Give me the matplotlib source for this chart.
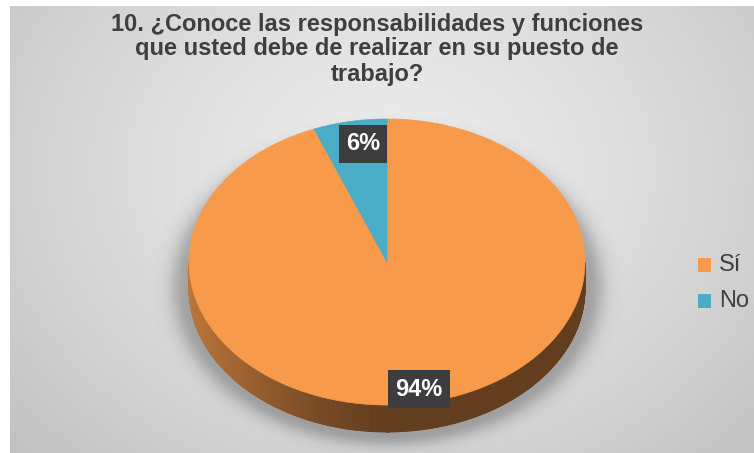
import matplotlib.pyplot as plt
import numpy as np
from matplotlib.patches import Polygon, Rectangle
from matplotlib.colors import to_rgb

labels = ['Sí', 'No']
values = [94, 6]
colors = ['#f89a4c', '#4bacc6']
title_lines = ['10. ¿Conoce las responsabilidades y funciones',
               'que usted debe de realizar en su puesto de',
               'trabajo?']

W, H = 754, 453
fig = plt.figure(figsize=(W / 100, H / 100), dpi=100, facecolor='white')
ax = fig.add_axes([0, 0, 1, 1])
ax.set_xlim(0, W)
ax.set_ylim(H, 0)
ax.axis('off')

# background: soft radial gray
x0, y0 = 10, 6
gx, gy = np.meshgrid(np.arange(x0, W), np.arange(y0, H))
r = np.sqrt(((gx - 390) / 520) ** 2 + ((gy - 170) / 420) ** 2)
lev = 0.925 - 0.17 * np.clip(r, 0, 1.2) ** 1.4
bg = np.dstack([lev, lev, lev])
ax.imshow(bg, extent=(x0, W, H, y0), aspect='auto', zorder=0)

# pie geometry (pixels)
cx, cy, rx, ry, depth = 387, 262, 198, 143, 27

# soft shadow under the pie
d = np.sqrt(((gx - cx) / (rx + 3)) ** 2 + ((gy - cy - depth * 0.9) / (ry + 5)) ** 2)
dist = (d - 1) * ry
sh_alpha = 0.42 * np.exp(-(np.clip(dist, 0, None) / 12.0) ** 2)
shadow = np.zeros(gx.shape + (4,))
shadow[..., 0:3] = 0.33
shadow[..., 3] = sh_alpha
ax.imshow(shadow, extent=(x0, W, H, y0), aspect='auto', zorder=1)


def pt(t, dy=0.0):
    t = np.radians(t)
    return cx + rx * np.cos(t), cy - ry * np.sin(t) + dy


# slice angles: start at 12 o'clock, going clockwise
fr = np.array(values) / sum(values) * 360
ends = 90 - np.cumsum(fr)
starts = ends + fr

# side wall (front half only)
for a0, a1, col in zip(ends, starts, colors):
    base = np.array(to_rgb(col))
    for k in (-360, 0):
        lo, hi = max(a0 - k, 180), min(a1 - k, 360)
        if hi <= lo:
            continue
        ts = np.linspace(lo, hi, int(hi - lo) * 2 + 2)
        for t1, t2 in zip(ts[:-1], ts[1:]):
            tm = np.radians((t1 + t2) / 2)
            shade = 0.40 + 0.36 * max(0.0, -np.cos(tm)) ** 1.3
            c = np.clip(base * shade, 0, 1)
            p = [pt(t1), pt(t2), pt(t2, depth), pt(t1, depth)]
            ax.add_patch(Polygon(p, closed=True, fc=c, ec=c, lw=0.6, zorder=2))

# top faces
for a0, a1, col in zip(ends, starts, colors):
    ts = np.linspace(a0, a1, 300)
    p = [(cx, cy)] + [pt(t) for t in ts]
    ax.add_patch(Polygon(p, closed=True, fc=col, ec=col, lw=0.5, zorder=3))

# data labels
lab_pos = [(419, 389), (363, 144)]
for v, (lx, ly) in zip(values, lab_pos):
    ax.text(lx, ly, f'{v}%', ha='center', va='center', fontsize=17,
            fontweight='bold', color='white', family='Liberation Sans',
            bbox=dict(boxstyle='square,pad=0.3', fc='#3d3d3f', ec='none'),
            zorder=5)

# title
for i, line in enumerate(title_lines):
    ax.text(377, 24 + 25 * i, line, ha='center', va='center', fontsize=17,
            fontweight='bold', color='#3f3f3f', family='Liberation Sans', zorder=6)

# legend
leg_y = [265, 301]
for lab, col, ly in zip(labels, colors, leg_y):
    ax.add_patch(Rectangle((698, ly - 7), 13, 14, fc=col, ec='none', zorder=6))
    ax.text(719, ly, lab, ha='left', va='center', fontsize=17,
            color='#404040', family='Liberation Sans', zorder=6)

fig.savefig('out.png', dpi=100, facecolor='white')
